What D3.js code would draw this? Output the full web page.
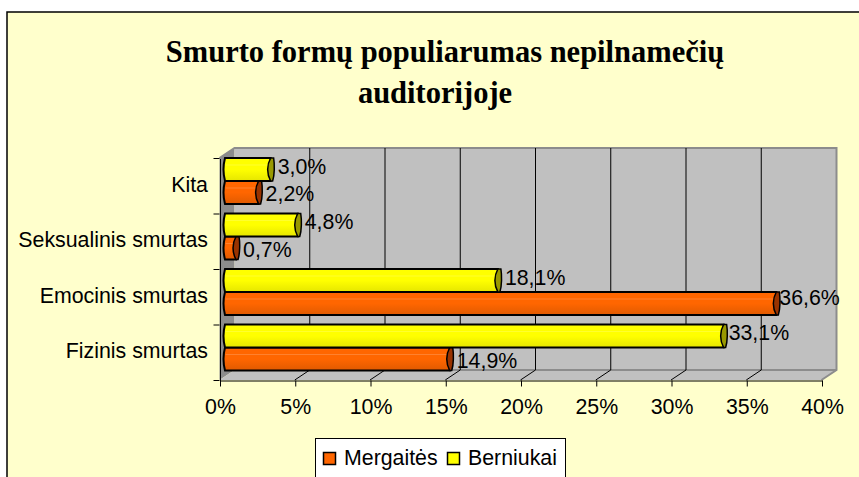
<!DOCTYPE html>
<html><head><meta charset="utf-8">
<script src="https://cdn.jsdelivr.net/npm/d3@7"></script>
<style>html,body{margin:0;padding:0;background:#fff}svg{display:block}text{font-family:"Liberation Sans",Arial,sans-serif;fill:#000}</style>
</head><body><svg id="c" width="859" height="477"></svg>
<script>
const titleLines = ["Smurto formų populiarumas nepilnamečių", "auditorijoje"];
const categories = ["Fizinis smurtas", "Emocinis smurtas", "Seksualinis smurtas", "Kita"];
const seriesNames = ["Mergaitės", "Berniukai"];
const mergaites = [14.9, 36.6, 0.7, 2.2];
const berniukai = [33.1, 18.1, 4.8, 3.0];
const tickValues = [0, 5, 10, 15, 20, 25, 30, 35, 40];
const seriesColors = ["#ff6600", "#ffff00"];
const capColors = ["#993300", "#999900"];
const gradBottom = ["#e05a00", "#e6e600"];

const svg = d3.select("#c");
const dx = 15, dy = -10;
const fs = "21.33px";
const x = d3.scaleLinear().domain([0, 40]).range([219.5, 821.5]);
const y = d3.scaleBand().domain(categories).range([380, 158]);
const inner = d3.scaleBand().domain([1, 0]).range([0, 46]);

const defs = svg.append("defs");
seriesColors.forEach((c, i) => {
  const g = defs.append("linearGradient").attr("id", "g" + i).attr("x1", 0).attr("x2", 0).attr("y1", 0).attr("y2", 1);
  g.append("stop").attr("offset", 0).attr("stop-color", c);
  g.append("stop").attr("offset", .5).attr("stop-color", c);
  g.append("stop").attr("offset", 1).attr("stop-color", gradBottom[i]);
});

svg.append("rect").attr("x", 7).attr("y", 12).attr("width", 860).attr("height", 480)
  .attr("fill", "#ffffcc").attr("stroke", "#000").attr("stroke-width", 1.5);

const titleX = [445, 435];
titleLines.forEach((t, i) => svg.append("text").text(t).attr("x", titleX[i]).attr("y", 62 + i * 41)
  .attr("text-anchor", "middle").style("font-family", "'Liberation Serif',serif")
  .style("font-weight", "bold").style("font-size", "30.5px"));

const [x0, x1] = x.range();
const yB = 380, yT = 158;
// walls
svg.append("path").attr("d", `M${x0},${yB}L${x0 + dx},${yB + dy}L${x0 + dx},${yT + dy}L${x0},${yT}Z`).attr("fill", "#8c8c8c");
svg.append("path").attr("d", `M${x0},${yB}L${x1},${yB}L${x1 + dx},${yB + dy}L${x0 + dx},${yB + dy}Z`).attr("fill", "#c0c0c0");
svg.append("rect").attr("x", x0 + dx).attr("y", yT + dy).attr("width", x1 - x0).attr("height", yB - yT).attr("fill", "#c0c0c0");
svg.append("path").attr("d", `M${x0},${yT}L${x0 + dx},${yT + dy}L${x1 + dx},${yT + dy}L${x1 + dx},${yB + dy}L${x1},${yB}`).attr("fill", "none").attr("stroke", "#8c8c8c").attr("stroke-width", 2);
svg.append("path").attr("d", `M${x0 + dx},${yB + dy}L${x1 + dx},${yB + dy}`).attr("stroke", "#8c8c8c").attr("stroke-width", 2);

// gridlines
tickValues.slice(1, -1).forEach(v => {
  svg.append("path").attr("d", `M${x(v) + dx},${yT + dy}V${yB + dy}L${x(v)},${yB}`).attr("fill", "none").attr("stroke", "#000");
});

// axes
const axX = d3.axisBottom(x).tickValues(tickValues).tickFormat(d => d + "%").tickSizeInner(6).tickSizeOuter(0).tickPadding(12);
const gx = svg.append("g").attr("transform", `translate(0.5,${yB + .5})`).call(axX);
const axY = d3.axisLeft(y).tickValues([]).tickSizeOuter(0);
const gy = svg.append("g").attr("transform", `translate(${x0 + .5},0.5)`).call(axY);
gy.select(".domain").attr("stroke", "#000");
[...categories.map(c => y(c)), yB].forEach(p => svg.append("line").attr("x1", x0 - 6).attr("x2", x0).attr("y1", p + .5).attr("y2", p + .5).attr("stroke", "#000"));
gx.selectAll("text").style("font-size", fs).attr("fill", "#000");
categories.forEach(c => svg.append("text").text(c).attr("x", 208).attr("y", y(c) + y.bandwidth() / 2 + 6)
  .attr("text-anchor", "end").style("font-size", fs));

// bars
const barLeft = x0 + 4;
const labelDy = [20, 15.5];
[mergaites, berniukai].forEach((vals, s) => {
  vals.forEach((v, i) => {
    const top = y(categories[i]) + inner(s), h = inner.bandwidth();
    const xe = barLeft + (x(v) - x(0));
    const g = svg.append("g");
    g.append("path")
      .attr("d", `M${barLeft + 1.5},${top}H${xe + 2}L${xe + 2},${top + h}H${barLeft + 1.5}Q${barLeft - 1.5},${top + h / 2} ${barLeft + 1.5},${top}Z`)
      .attr("fill", `url(#g${s})`).attr("stroke", "#000").attr("stroke-width", 2);
    g.append("line").attr("x1", barLeft + 2).attr("x2", xe - 1).attr("y1", top + 7).attr("y2", top + 7)
      .attr("stroke", "#fff").attr("stroke-opacity", .18);
    g.append("path")
      .attr("d", `M${xe + 2},${top}L${xe + 5},${top}C${xe + 6},${top + 6} ${xe + 6},${top + h - 6} ${xe + 4},${top + h}L${xe + 2},${top + h}C${xe - 2},${top + h - 7} ${xe - 2},${top + 7} ${xe + 2},${top}Z`)
      .attr("fill", capColors[s]).attr("stroke", "#000").attr("stroke-width", 1.5);
    const big = v > 30;
    g.append("text").text(v.toFixed(1).replace(".", ",") + "%")
      .attr("x", xe + (v > 36 ? 5 : big ? 7 : 9)).attr("y", top + (v > 36 ? 13 : labelDy[s])).style("font-size", fs);
  });
});

// legend
svg.append("rect").attr("x", 315.5).attr("y", 438.5).attr("width", 250).attr("height", 60).attr("fill", "#fff").attr("stroke", "#000");
const legendX = [323, 447];
const legendTextX = [344, 468];
seriesNames.forEach((n, i) => {
  svg.append("rect").attr("x", legendX[i] + .5).attr("y", 452.5).attr("width", 12).attr("height", 12).attr("fill", seriesColors[i]).attr("stroke", "#000").attr("stroke-width", 1.5);
  svg.append("text").text(n).attr("x", legendTextX[i]).attr("y", 465).style("font-size", fs);
});
</script></body></html>
